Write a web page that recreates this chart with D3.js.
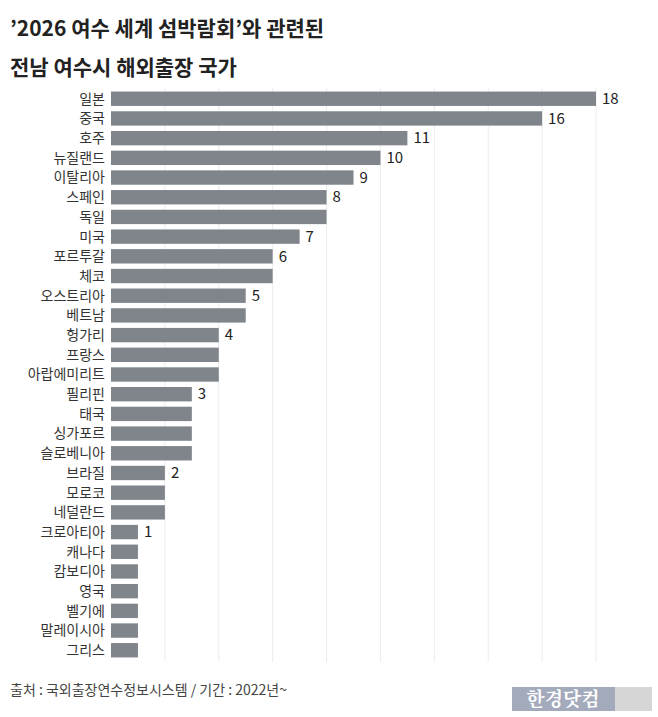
<!DOCTYPE html><html><head><meta charset="utf-8"><script src="https://cdn.jsdelivr.net/npm/d3@7"></script>
<style>body{margin:0;background:#fff}</style></head><body><svg id="c" width="658" height="717"></svg><script>
const categories=["일본","중국","호주","뉴질랜드","이탈리아","스페인","독일","미국","포르투갈","체코","오스트리아","베트남","헝가리","프랑스","아랍에미리트","필리핀","태국","싱가포르","슬로베니아","브라질","모로코","네덜란드","크로아티아","캐나다","캄보디아","영국","벨기에","말레이시아","그리스"];
const values=[18,16,11,10,9,8,8,7,6,6,5,5,4,4,4,3,3,3,3,2,2,2,1,1,1,1,1,1,1];
const showLabel=[1,1,1,1,1,1,0,1,1,0,1,0,1,0,0,1,0,0,0,1,0,0,1,0,0,0,0,0,0];
const gridTicks=[2,4,6,8,10,12,14,16,18];
const svg=d3.select("#c");
const F="'Noto Sans CJK KR','Noto Sans',sans-serif";
const x=d3.scaleLinear().domain([0,18]).range([111,596]);
const y=d3.scaleBand().domain(categories).range([89,660]).paddingInner(0.27).paddingOuter(0.13);
svg.selectAll(".g").data(gridTicks).enter().append("line").attr("x1",d=>x(d)).attr("x2",d=>x(d)).attr("y1",88).attr("y2",662).attr("stroke","#ececec").attr("stroke-width",1);
svg.selectAll(".b").data(categories).enter().append("rect").attr("x",x(0)).attr("y",d=>y(d)).attr("width",(d,i)=>x(values[i])-x(0)).attr("height",y.bandwidth()).attr("fill","#80858c");
svg.selectAll(".c").data(categories).enter().append("text").attr("x",105).attr("y",d=>y(d)+y.bandwidth()/2).attr("dy","0.35em").attr("text-anchor","end").attr("font-family",F).attr("font-size",14).attr("fill","#333").text(d=>d);
svg.selectAll(".v").data(categories.filter((d,i)=>showLabel[i])).enter().append("text").attr("x",d=>x(values[categories.indexOf(d)])+6).attr("y",d=>y(d)+y.bandwidth()/2).attr("dy","0.35em").attr("font-family",F).attr("font-size",15).attr("fill","#222").text(d=>values[categories.indexOf(d)]);
svg.append("text").attr("x",10).attr("y",36).attr("font-family",F).attr("font-size",21).attr("font-weight","bold").attr("fill","#222").text("’2026 여수 세계 섬박람회’와 관련된");
svg.append("text").attr("x",10).attr("y",75).attr("font-family",F).attr("font-size",21).attr("font-weight","bold").attr("fill","#222").text("전남 여수시 해외출장 국가");
svg.append("text").attr("x",10).attr("y",695).attr("font-family",F).attr("font-size",14).attr("fill","#444").text("출처 : 국외출장연수정보시스템 / 기간 : 2022년~");
svg.append("rect").attr("x",512).attr("y",687).attr("width",103).attr("height",24).attr("fill","#a3aabb");
svg.append("rect").attr("x",615).attr("y",687).attr("width",37).attr("height",24).attr("fill","#d6d6d6");
svg.append("text").attr("x",563).attr("y",706).attr("text-anchor","middle").attr("font-family","'Noto Serif CJK KR','Noto Sans CJK KR',serif").attr("font-size",19).attr("font-weight","bold").attr("fill","#fff").text("한경닷컴");
</script></body></html>
